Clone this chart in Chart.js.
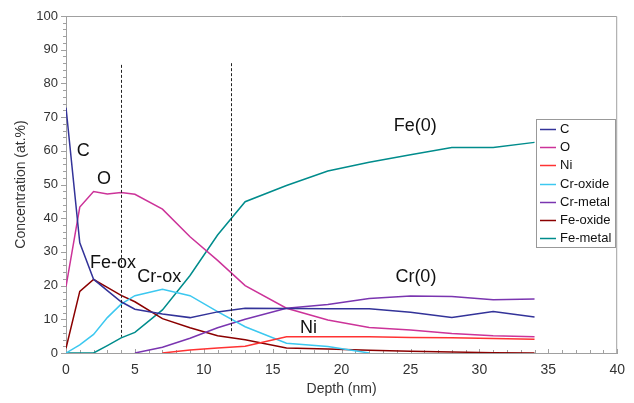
<!DOCTYPE html>
<html>
<head>
<meta charset="utf-8">
<script src="https://cdn.jsdelivr.net/npm/chart.js"></script>
<style>
  html, body { margin: 0; padding: 0; background: #fff; }
  #wrap { width: 634px; height: 403px; }
</style>
</head>
<body>
<div id="wrap"><canvas id="chart" width="634" height="403"></canvas></div>
<script>
// depth profile, values
const depth    = [0, 1, 2, 3, 4, 5, 7, 9, 11, 13, 16, 19, 22, 25, 28, 31, 34];
const carbon   = [72.8, 32.7, 21.9, 18.5, 15.2, 13.0, 11.6, 10.5, 12.2, 13.3, 13.2, 13.1, 13.1, 12.1, 10.5, 12.3, 10.7];
const oxygen   = [19.7, 43.3, 47.9, 47.2, 47.6, 47.1, 42.7, 34.5, 27.5, 20.0, 13.3, 9.8, 7.6, 6.8, 5.8, 5.1, 4.8];
const nickel   = [null, null, null, null, null, null, 0, 0.9, 1.5, 2.0, 4.8, 4.8, 4.8, 4.6, 4.5, 4.3, 4.1];
const crOxide  = [0, 2.4, 5.5, 10.5, 14.5, 17.0, 18.9, 17.0, 12.3, 7.8, 2.9, 1.9, 0, null, null, null, null];
const crMetal  = [null, null, null, null, null, 0, 1.7, 4.4, 7.5, 10.0, 13.3, 14.4, 16.2, 16.9, 16.8, 15.8, 16.0];
const feOxide  = [1.4, 18.3, 21.8, 19.5, 17.1, 15.2, 10.2, 7.5, 5.1, 3.9, 1.5, 1.2, 0.8, 0.5, 0.3, 0.1, 0];
const feMetal  = [0, 0, 0, 2.2, 4.5, 6.1, 12.8, 23.0, 35.0, 44.9, 49.7, 54.0, 56.6, 58.8, 61.0, 61.0, 62.5];

const seriesNames  = ['C', 'O', 'Ni', 'Cr-oxide', 'Cr-metal', 'Fe-oxide', 'Fe-metal'];
const seriesValues = [carbon, oxygen, nickel, crOxide, crMetal, feOxide, feMetal];
const seriesColors = ['#333399', '#CC3399', '#FF3333', '#3CC8F0', '#7A35B0', '#8B0000', '#008C8C'];

// dashed interface markers: depth, from, to (at.%)
const markerDepth = [4, 12];
const markerTop   = [85.5, 86];
const markerBottom = [4.8, 5.8];

// text labels on the plot (depth, at.%)
const labelText  = ['C', 'O', 'Fe-ox', 'Cr-ox', 'Fe(0)', 'Cr(0)', 'Ni'];
const labelDepth = [1.25, 2.76, 3.41, 6.77, 25.35, 25.39, 17.59];
const labelConc  = [60, 51.5, 26.6, 22.5, 67.4, 22.6, 7.3];

const FONT = '"Liberation Sans", Arial, sans-serif';
Chart.defaults.font.family = FONT;

const datasets = seriesNames.map((name, i) => ({
  label: name,
  data: depth.map((d, j) => ({ x: d, y: seriesValues[i][j] })),
  borderColor: seriesColors[i],
  backgroundColor: seriesColors[i],
  borderWidth: 1.5,
  pointRadius: 0,
  tension: 0,
  spanGaps: false
}));

const extras = {
  id: 'extras',
  beforeDatasetsDraw(chart) {
    const { ctx, chartArea: a, scales: { x, y } } = chart;
    ctx.save();
    ctx.strokeStyle = '#A0A0A0';
    ctx.lineWidth = 1;
    ctx.beginPath();
    ctx.moveTo(a.left, a.top + 0.5);
    ctx.lineTo(a.right - 0.5, a.top + 0.5);
    ctx.lineTo(a.right - 0.5, a.bottom);
    ctx.stroke();
    // minor / major ticks
    ctx.beginPath();
    for (let v = 0; v <= 100; v += 2) {
      const py = Math.round(y.getPixelForValue(v)) + 0.5;
      const len = v % 10 === 0 ? 5 : 3;
      ctx.moveTo(a.left - len, py);
      ctx.lineTo(a.left, py);
    }
    for (let v = 0; v <= 40; v += 1) {
      const px = Math.round(x.getPixelForValue(v)) + 0.5;
      const len = v % 5 === 0 ? 4 : 3;
      ctx.moveTo(px, a.bottom);
      ctx.lineTo(px, a.bottom - len);
    }
    ctx.stroke();
    ctx.restore();
  },
  afterDatasetsDraw(chart) {
    const { ctx, scales: { x, y } } = chart;
    ctx.save();
    ctx.strokeStyle = '#222';
    ctx.lineWidth = 1;
    ctx.setLineDash([3, 2]);
    markerDepth.forEach((d, i) => {
      const px = Math.round(x.getPixelForValue(d)) + 0.5;
      ctx.beginPath();
      ctx.moveTo(px, y.getPixelForValue(markerTop[i]));
      ctx.lineTo(px, y.getPixelForValue(markerBottom[i]));
      ctx.stroke();
    });
    ctx.setLineDash([]);
    ctx.fillStyle = '#111';
    ctx.font = '18px ' + FONT;
    ctx.textAlign = 'center';
    ctx.textBaseline = 'middle';
    labelText.forEach((t, i) => {
      ctx.fillText(t, x.getPixelForValue(labelDepth[i]), y.getPixelForValue(labelConc[i]));
    });

    // legend box
    const bx = 536, by = 119, bw = 79, bh = 128, step = 18.2;
    ctx.fillStyle = '#fff';
    ctx.fillRect(bx, by, bw, bh);
    ctx.strokeStyle = '#999';
    ctx.strokeRect(bx + 0.5, by + 0.5, bw, bh);
    ctx.font = '13px ' + FONT;
    ctx.textAlign = 'left';
    chart.data.datasets.forEach((ds, i) => {
      const cy = Math.round(by + 10 + i * step) + 0.5;
      ctx.strokeStyle = ds.borderColor;
      ctx.lineWidth = 1.5;
      ctx.beginPath();
      ctx.moveTo(bx + 4, cy);
      ctx.lineTo(bx + 20, cy);
      ctx.stroke();
      ctx.fillStyle = '#111';
      ctx.fillText(ds.label, bx + 24, cy);
    });
    ctx.restore();
  }
};

new Chart(document.getElementById('chart'), {
  type: 'line',
  data: { datasets },
  options: {
    responsive: false,
    animation: false,
    layout: { padding: { top: 16, right: 13, left: 0, bottom: 0 } },
    plugins: { legend: { display: false }, tooltip: { enabled: false } },
    scales: {
      x: {
        type: 'linear', min: 0, max: 40,
        grid: { display: false, drawTicks: false },
        border: { color: '#A0A0A0', width: 1 },
        ticks: { stepSize: 5, padding: 9, color: '#333', font: { size: 14 }, maxRotation: 0 },
        title: { display: true, text: 'Depth (nm)', color: '#333', font: { size: 14 }, padding: { top: 0, bottom: 5 } },
        afterFit(s) { s.height = 50; }
      },
      y: {
        min: 0, max: 100,
        grid: { display: false, drawTicks: false },
        border: { color: '#A0A0A0', width: 1 },
        ticks: { stepSize: 10, padding: 8, color: '#333', font: { size: 13 } },
        title: { display: true, text: 'Concentration (at.%)', color: '#333', font: { size: 14 }, padding: { top: 13, bottom: 0 } },
        afterFit(s) { s.width = 66; }
      }
    }
  },
  plugins: [extras]
});
</script>
</body>
</html>
